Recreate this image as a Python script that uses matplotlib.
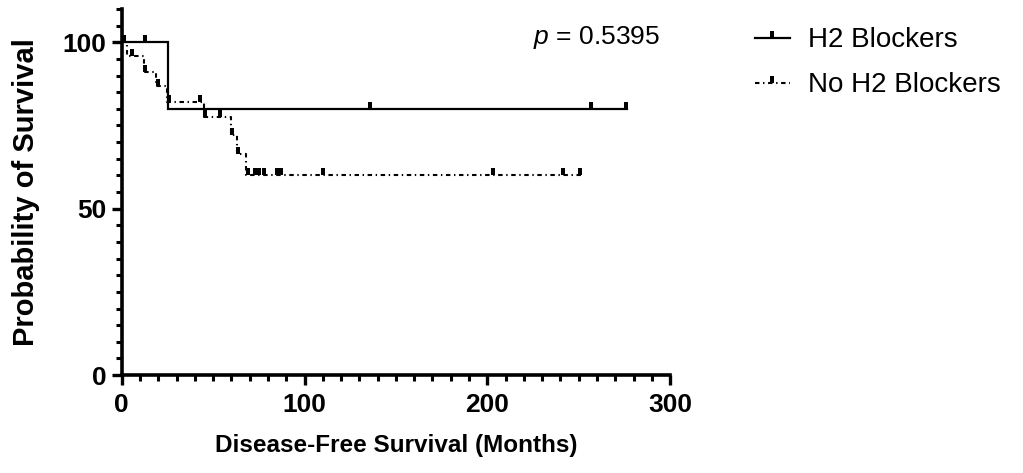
import numpy as np
import matplotlib
matplotlib.use("Agg")
import matplotlib.pyplot as plt
from matplotlib.path import Path
from matplotlib.lines import Line2D
from matplotlib.ticker import MultipleLocator

plt.rcParams['font.family'] = ['Liberation Sans', 'DejaVu Sans']
plt.rcParams['mathtext.fontset'] = 'custom'
plt.rcParams['mathtext.it'] = 'Liberation Sans:italic'
plt.rcParams['mathtext.rm'] = 'Liberation Sans'
plt.rcParams['lines.scale_dashes'] = False

# ---- data ----
h2_times = [0, 25.5, 276.5]
h2_surv = [100, 80, 80]
h2_censor_times = [1, 13, 136, 257, 276]

no_times = [0, 3, 12, 19, 25, 45, 59.7, 62.8, 68, 251.5]
no_surv = [100, 95.9, 91.0, 87.0, 82.2, 77.5, 72.0, 66.5, 60.0, 60.0]
no_censor_times = [5.5, 13, 20, 26, 43, 45.5, 53.5, 60.5, 63.5,
                   69, 73, 75, 78, 85, 87, 110, 203, 241.5, 250.5]

series_labels = ["H2 Blockers", "No H2 Blockers"]
p_value_text = "$p$ = 0.5395"
x_label = "Disease-Free Survival (Months)"
y_label = "Probability of Survival"


def step_value(times, surv, t):
    idx = np.searchsorted(times, t, side='right') - 1
    return np.asarray(surv)[idx]


# censor mark: small bar sitting on top of the line
tick_marker = Path([(-0.45, 0), (0.45, 0), (0.45, 1.3), (-0.45, 1.3), (-0.45, 0)],
                   [Path.MOVETO, Path.LINETO, Path.LINETO, Path.LINETO, Path.CLOSEPOLY])
MS = 10

fig = plt.figure(figsize=(10.23, 4.73), dpi=100)
ax = fig.add_axes([0.119, 0.207, 0.536, 0.774])

dash_pat = (3.2, 2.6, 1.0, 2.6)

ax.step(h2_times, h2_surv, where='post', color='black', lw=1.6, solid_joinstyle='miter')
ax.plot(h2_censor_times, step_value(h2_times, h2_surv, h2_censor_times),
        ls='none', marker=tick_marker, ms=MS, color='black', mec='black', mew=0)

ax.step(no_times, no_surv, where='post', color='black', lw=1.5, dashes=dash_pat)
ax.plot(no_censor_times, step_value(no_times, no_surv, no_censor_times),
        ls='none', marker=tick_marker, ms=MS, color='black', mec='black', mew=0)

ax.set_xlim(0, 300)
ax.set_ylim(0, 110)
ax.xaxis.set_major_locator(MultipleLocator(100))
ax.xaxis.set_minor_locator(MultipleLocator(10))
ax.yaxis.set_major_locator(MultipleLocator(50))
ax.yaxis.set_minor_locator(MultipleLocator(5))

for s in ['top', 'right']:
    ax.spines[s].set_visible(False)
for s in ['left', 'bottom']:
    ax.spines[s].set_linewidth(2.6)

ax.tick_params(which='major', length=7, width=2.4, direction='out', labelsize=19)
ax.tick_params(axis='x', which='major', pad=6)
ax.tick_params(axis='y', which='major', pad=4)
ax.tick_params(which='minor', length=4.5, width=2.2, direction='out')
for lab in ax.get_xticklabels() + ax.get_yticklabels():
    lab.set_fontweight('bold')

ax.set_xlabel(x_label, fontsize=17.5, fontweight='bold', labelpad=12)
ax.set_ylabel(y_label, fontsize=21, fontweight='bold', labelpad=16)

ax.text(0.982, 101.3, p_value_text, transform=ax.get_yaxis_transform(),
        ha='right', va='center', fontsize=19)

handles = [
    Line2D([0], [0], color='black', lw=1.6, marker=tick_marker, ms=MS, mew=0),
    Line2D([0], [0], color='black', lw=1.5, dashes=dash_pat, marker=tick_marker, ms=MS, mew=0),
]
leg = fig.legend(handles, series_labels, loc='upper left',
                 bbox_to_anchor=(0.738, 0.942), frameon=False, fontsize=20,
                 handlelength=1.26, handletextpad=0.65, labelspacing=0.68,
                 numpoints=1, borderaxespad=0, borderpad=0)

fig.savefig("out.png", dpi=100)
